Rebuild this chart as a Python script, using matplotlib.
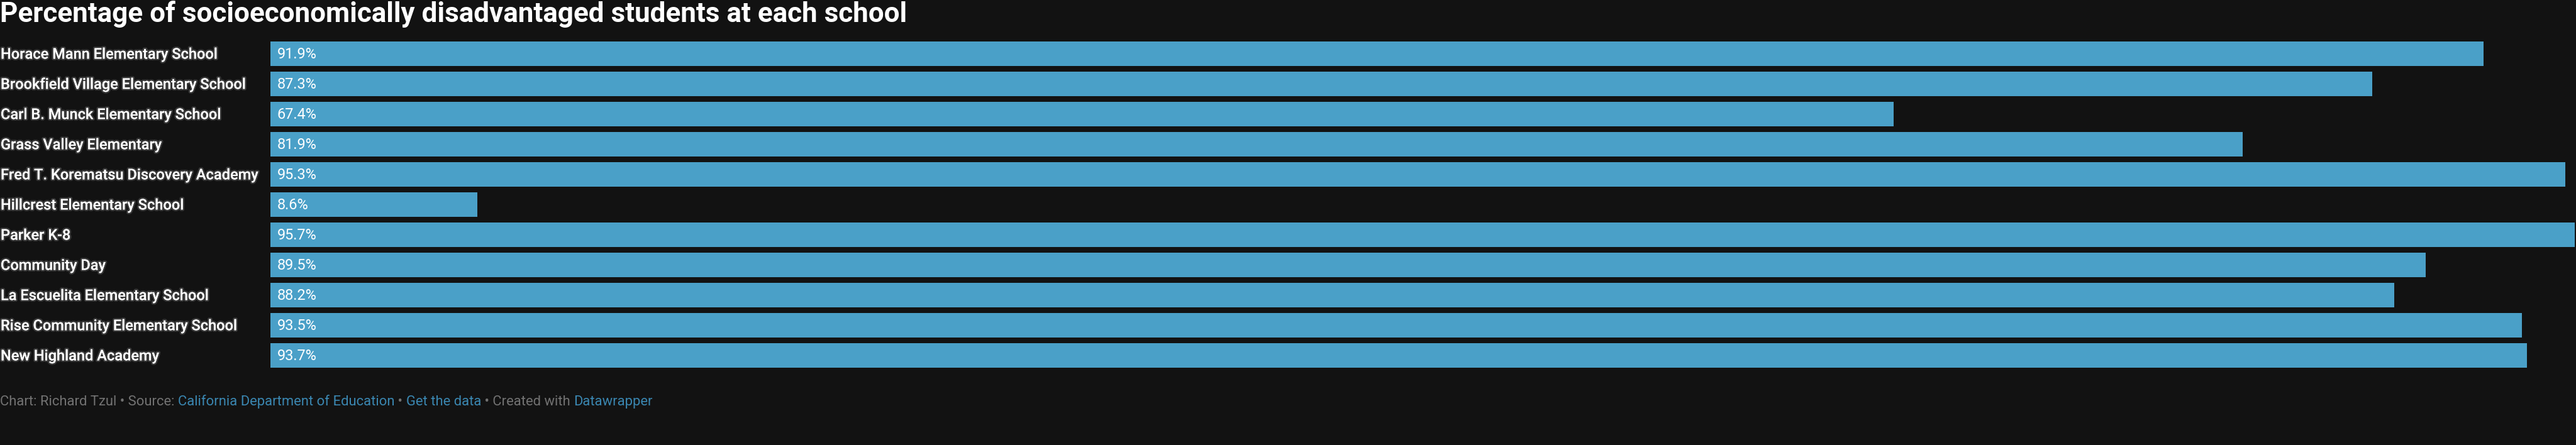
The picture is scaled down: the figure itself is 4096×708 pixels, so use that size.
import matplotlib
matplotlib.use("Agg")
import matplotlib.pyplot as plt
import matplotlib.transforms as mtransforms
import matplotlib.patheffects as pe

schools = [
    "Horace Mann Elementary School",
    "Brookfield Village Elementary School",
    "Carl B. Munck Elementary School",
    "Grass Valley Elementary",
    "Fred T. Korematsu Discovery Academy",
    "Hillcrest Elementary School",
    "Parker K-8",
    "Community Day",
    "La Escuelita Elementary School",
    "Rise Community Elementary School",
    "New Highland Academy",
]
pct_disadvantaged = [91.9, 87.3, 67.4, 81.9, 95.3, 8.6, 95.7, 89.5, 88.2, 93.5, 93.7]

title = "Percentage of socioeconomically disadvantaged students at each school"
footer_parts = [
    ("Chart: Richard Tzul • Source: ", "gray"),
    ("California Department of Education", "link"),
    (" • ", "gray"),
    ("Get the data", "link"),
    (" • Created with ", "gray"),
    ("Datawrapper", "link"),
]

BG = "#121212"
BAR = "#4aa0c8"
GRAY = "#727272"
LINK = "#3a86b0"

plt.rcParams['font.family'] = ['Roboto', 'DejaVu Sans']

W, H = 4096, 708
fig = plt.figure(figsize=(W / 100, H / 100), dpi=100, facecolor=BG)
renderer = fig.canvas.get_renderer()


def fit_size(text, target_px, base=20, **kw):
    # pick a font size so the text is about target_px wide
    t = fig.text(0, 0, text, fontsize=base, **kw)
    w = t.get_window_extent(renderer).width
    t.remove()
    return base * target_px / w


title_fs = fit_size(title, 1438, fontweight='bold')
label_fs = fit_size("Fred T. Korematsu Discovery Academy", 410, fontweight='medium')
value_fs = fit_size("91.9%", 63)
footer_fs = fit_size("".join(p for p, _ in footer_parts), 1033)

# axes placed in pixel terms: bars start at x=430, rows are 48 px apart
top_px, pitch = 61.7, 48.0
n = len(schools)
ax = fig.add_axes([430 / W, 1 - (top_px + n * pitch) / H, 1 - 430 / W, n * pitch / H])
ax.set_facecolor(BG)
ax.barh(range(n), pct_disadvantaged, height=0.82, color=BAR)
ax.set_xlim(0, 95.75)
ax.set_ylim(n - 0.5, -0.5)
ax.axis('off')

glow = [pe.withStroke(linewidth=3.5, foreground=(1, 1, 1, 0.16))]
lab_trans = mtransforms.blended_transform_factory(fig.transFigure, ax.transData)
val_trans = mtransforms.offset_copy(ax.transData, fig=fig, x=11, y=0, units='dots')
for i, (name, v) in enumerate(zip(schools, pct_disadvantaged)):
    ax.text(1 / W, i + 0.16, name, transform=lab_trans, ha='left', va='baseline',
            fontsize=label_fs, fontweight='medium', color='white', path_effects=glow)
    ax.text(0, i + 0.16, f"{v}%", transform=val_trans, ha='left', va='baseline',
            fontsize=value_fs, color='white')

fig.text(0, 1 - 34.7 / H, title, ha='left', va='baseline', fontsize=title_fs,
         fontweight='bold', color='white')

# footer with mixed colours, laid out piece by piece
x = 0
for txt, kind in footer_parts:
    t = fig.text(x / W, 1 - 645 / H, txt, ha='left', va='baseline', fontsize=footer_fs,
                 color=LINK if kind == "link" else GRAY)
    x += t.get_window_extent(renderer).width

fig.savefig("out.png", dpi=100, facecolor=BG)
